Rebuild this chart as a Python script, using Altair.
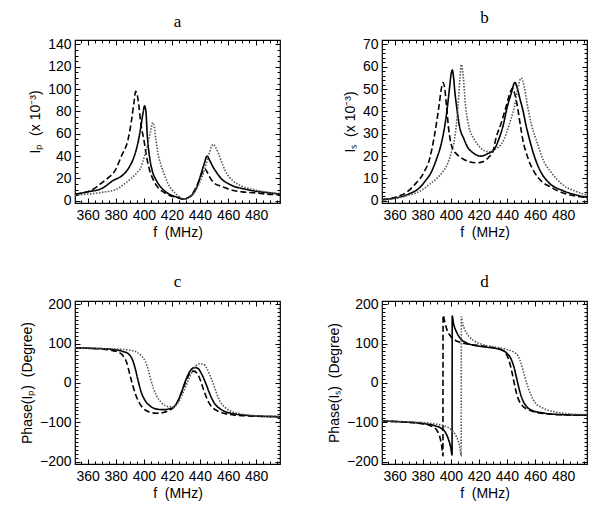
import altair as alt
import pandas as pd

F_DOMAIN = [351, 497]
SERIES = ["solid", "dashed", "dotted"]

# ---------------- panel a : I_p (x 10^-3) ----------------
a_solid_f = [351, 360, 370, 378, 385, 388, 390, 392, 394, 396, 398, 399.5, 400.5, 401.5, 402.5, 404, 406, 409, 413, 418, 423, 428.5, 432, 435, 438, 441, 443, 445, 447, 449, 451.5, 455, 460, 465, 470, 480, 490, 497]
a_solid_v = [6, 8, 11, 18, 23, 27, 31, 36, 43, 53, 67, 79, 85, 80, 58, 40, 27, 18, 11, 6, 3.5, 1.5, 3, 6, 13, 25, 33, 40, 36, 31, 26, 20, 15.5, 12.5, 11, 8.5, 7, 6]
a_dash_f = [351, 360, 366, 371, 375, 379.5, 384, 388.8, 391, 393, 394.2, 395.3, 396.5, 398, 400, 401.5, 403, 404.5, 407, 410, 415, 420, 425, 428.5, 432, 436, 440, 442, 443.6, 445, 447, 450, 455, 463, 470, 480, 487, 497]
a_dash_v = [6, 8, 12, 17, 21, 27, 40, 55, 70, 88, 98, 95, 85, 68, 55, 43, 33, 26, 18, 12, 7, 4, 2.5, 1.5, 3, 9, 20, 26, 28.5, 26, 21, 16, 13, 9.5, 8, 7, 6, 5.5]
a_dot_f = [351, 360, 370, 380, 386, 391, 395, 398, 400.5, 403, 405, 406.3, 407.5, 408.6, 410, 412, 414.5, 417, 420, 424, 428.5, 432, 436, 440, 443, 446, 448.3, 449.5, 451, 453, 455, 458, 461, 463.4, 470, 480, 486.7, 497]
a_dot_v = [5, 6, 7.5, 10, 15, 20, 25, 30, 40, 52, 63, 70, 66, 55, 43, 33, 24, 16, 10, 5, 1.5, 3, 8, 17, 27, 40, 49, 50.5, 48, 43, 36, 27, 21, 18, 13, 9.5, 8, 6]

# ---------------- panel b : I_s (x 10^-3) ----------------
b_solid_f = [351, 360, 370, 378, 382, 386, 390, 393, 395, 397, 399, 400.3, 401.1, 402, 403, 404.2, 406, 409.4, 412, 415.4, 421.4, 426, 430.9, 434.2, 437, 440.2, 443, 445.7, 447.5, 449.5, 451.2, 453.5, 456, 460, 464.3, 470, 480, 490, 497]
b_solid_v = [0.5, 1.2, 3, 6, 9, 12.7, 19, 25, 31, 39, 50, 57, 58.5, 55, 48, 42, 34, 27.6, 24, 21.7, 20, 21, 23, 27.6, 33, 42, 48, 53, 50, 45, 41, 34, 27.6, 19, 12.7, 8, 4.5, 2.5, 1.5]
b_dash_f = [351, 360, 370, 373.6, 380.8, 385, 387.9, 391.5, 393.5, 394.4, 395.5, 397, 398.5, 400, 401.5, 404, 408, 413, 418, 423, 427, 430, 432, 436, 439.3, 442, 444, 445.5, 447.5, 449.5, 451.2, 455, 459.6, 465, 470, 480, 490, 497]
b_dash_v = [0.5, 1.5, 4.5, 6.8, 12.7, 19, 27.6, 42, 51, 53, 51, 42, 32, 26, 23, 21, 19, 17.5, 17, 17.5, 19.5, 22, 27.6, 35, 42, 48, 50.5, 48, 42, 34, 27.6, 19, 12.7, 8.5, 6.5, 3.5, 2, 1.5]
b_dot_f = [351, 360, 370, 380, 385, 390, 394, 398, 400.5, 402.7, 405.1, 406.5, 407.5, 408.5, 410.6, 413, 416.6, 420, 423.7, 427, 430.9, 434, 438, 441, 445.2, 448, 450, 452, 454.8, 457.5, 460.7, 466, 471.5, 480, 490, 497]
b_dot_v = [0.3, 1, 2.5, 5, 7.5, 10, 12.7, 17, 22, 27.6, 42, 55, 61, 58, 42, 33, 27.6, 24.5, 22.5, 22, 23, 24, 27.6, 33, 42, 51, 55, 52, 42, 34, 27.6, 18, 12.7, 7, 4, 2.5]

# ---------------- panel c : Phase(I_p) (Degree) ----------------
c_solid_f = [351, 360, 370, 380, 385, 389, 392, 394, 396, 398, 401, 405, 410, 415, 419, 421, 424, 427, 430, 433, 436, 438.5, 441, 444, 447, 450, 454, 458, 465, 475, 485, 497]
c_solid_v = [89, 88, 87, 84, 80, 74, 58, 35, 5, -22, -45, -60, -67, -68, -65, -62, -48, -22, 8, 30, 39, 37, 24, 0, -28, -50, -65, -73, -79, -83, -85, -86]
c_dash_f = [351, 360, 370, 378, 382, 385, 388, 390, 392, 394, 397, 400, 404, 409, 414, 418, 421, 424, 427, 430, 433, 435.5, 438, 440.5, 443, 446, 449, 453, 458, 465, 475, 485, 497]
c_dash_v = [89, 88, 86, 82, 78, 70, 50, 22, -5, -28, -52, -66, -74, -77, -75, -70, -63, -48, -24, 5, 25, 30, 24, 5, -22, -48, -63, -72, -78, -82, -84, -85, -86]
c_dot_f = [351, 360, 370, 380, 390, 395, 398, 401, 403, 405, 407, 409, 412, 415, 418, 421, 424, 427, 430, 433, 436, 439, 442, 445, 448, 451, 454, 458, 462, 468, 475, 485, 497]
c_dot_v = [89, 88, 87, 86, 83, 78, 70, 55, 35, 8, -15, -32, -48, -57, -61, -61, -52, -33, -8, 18, 38, 48, 48, 36, 12, -18, -45, -63, -72, -78, -82, -84, -85]

# ---------------- panel d : Phase(I_s) (Degree) ----------------
d_solid_f = [351, 360, 370, 380, 388, 393, 396, 398, 400, 400.9, 401, 402, 404, 407, 411, 416, 425, 435, 440, 443, 445, 447, 449, 451, 454, 458, 465, 475, 497]
d_solid_v = [-97, -98, -100, -103, -108, -115, -125, -140, -165, -183, 170, 150, 130, 112, 102, 96, 91, 85, 75, 60, 40, 10, -20, -42, -60, -70, -76, -80, -82]
d_dash_f = [351, 360, 370, 380, 385, 388, 390, 392, 393.5, 394.4, 394.5, 395.5, 397, 400, 405, 410, 420, 430, 435, 438, 440, 442, 444, 446, 448, 451, 455, 460, 470, 480, 497]
d_dash_v = [-97, -98, -100, -104, -108, -113, -120, -135, -160, -185, 172, 158, 138, 118, 105, 100, 95, 90, 86, 80, 70, 50, 20, -15, -40, -58, -68, -74, -79, -81, -82]
d_dot_f = [351, 360, 370, 380, 390, 396, 400, 403, 405, 406.5, 407.4, 407.5, 408.5, 410, 413, 417, 422, 430, 440, 445, 448, 450, 452, 454, 457, 460, 465, 472, 480, 497]
d_dot_v = [-97, -98, -99, -101, -105, -110, -118, -130, -145, -165, -185, 168, 150, 135, 118, 106, 98, 92, 85, 78, 68, 50, 25, 0, -30, -50, -63, -72, -77, -81]

W, H = 205, 163
LABEL_FONT = "Liberation Sans"
NB = "\u00a0"


def frame(values):
    rows = []
    for name, (fs, vs) in zip(SERIES, values):
        for i, (f, v) in enumerate(zip(fs, vs)):
            rows.append({"f": f, "v": v, "series": name, "i": i})
    return pd.DataFrame(rows)


def grid_dash(length, major_test):
    return {"condition": {"test": major_test, "value": [5, length - 10, 5, 4000]},
            "value": [3, length - 6, 3, 4000]}


def panel(values, ydomain, ystep_major, ystep_minor, ytitle, title):
    df = frame(values)
    xvals = list(range(355, 500, 5))
    lo = int(round(ydomain[0] / ystep_minor)) * ystep_minor
    yvals = [v for v in range(lo, int(ydomain[1]) + 1, ystep_minor) if ydomain[0] <= v <= ydomain[1]]
    xtest = "datum.value % 20 === 0"
    ytest = f"datum.value % {ystep_major} === 0"
    xaxis = alt.Axis(values=xvals, labelExpr=f"{xtest} ? datum.label : ''", ticks=False, domain=False,
                     grid=True, gridColor="black", gridOpacity=1, gridWidth=1,
                     gridDash=grid_dash(H, xtest), labelFont=LABEL_FONT, labelFontSize=14,
                     labelColor="black", labelPadding=5, labelOverlap=False, labelFlush=False,
                     titleFont=LABEL_FONT, titleFontSize=14, titleFontWeight="normal",
                     titleColor="black", titlePadding=3)
    yaxis = alt.Axis(values=yvals, labelExpr=f"{ytest} ? datum.label : ''", ticks=False, domain=False,
                     grid=True, gridColor="black", gridOpacity=1, gridWidth=1,
                     gridDash=grid_dash(W, ytest), labelFont=LABEL_FONT, labelFontSize=14,
                     labelColor="black", labelPadding=4, labelOverlap=False, labelFlush=False,
                     titleFont=LABEL_FONT, titleFontSize=14, titleFontWeight="normal",
                     titleColor="black", titlePadding=5)
    return alt.Chart(df).mark_line(interpolate="monotone", clip=True).encode(
        x=alt.X("f:Q", scale=alt.Scale(domain=F_DOMAIN, nice=False, zero=False), axis=xaxis, title=f"f{NB} (MHz)"),
        y=alt.Y("v:Q", scale=alt.Scale(domain=ydomain, nice=False, zero=False), axis=yaxis, title=ytitle),
        strokeDash=alt.StrokeDash("series:N", scale=alt.Scale(domain=SERIES, range=[[1, 0], [6, 3], [1.5, 1.5]]), legend=None),
        color=alt.Color("series:N", scale=alt.Scale(domain=SERIES, range=["#000000", "#000000", "#555555"]), legend=None),
        strokeWidth=alt.StrokeWidth("series:N", scale=alt.Scale(domain=SERIES, range=[1.6, 1.6, 1.3]), legend=None),
        order="i:Q",
    ).properties(width=W, height=H,
                 title=alt.TitleParams(title, font="Liberation Serif", fontSize=17, fontWeight="normal",
                                       color="black", anchor="middle", offset=6))


pa = panel([(a_solid_f, a_solid_v), (a_dash_f, a_dash_v), (a_dot_f, a_dot_v)], [-2, 144], 20, 5, f"Iₚ{NB} (x 10⁻³)", "a")
pb = panel([(b_solid_f, b_solid_v), (b_dash_f, b_dash_v), (b_dot_f, b_dot_v)], [-1, 72], 10, 2, f"Iₛ{NB} (x 10⁻³)", "b")
pc = panel([(c_solid_f, c_solid_v), (c_dash_f, c_dash_v), (c_dot_f, c_dot_v)], [-206, 208], 100, 10, f"Phase(Iₚ){NB} (Degree)", "c")
pd_ = panel([(d_solid_f, d_solid_v), (d_dash_f, d_dash_v), (d_dot_f, d_dot_v)], [-206, 208], 100, 10, f"Phase(Iₛ){NB} (Degree)", "d")

chart = alt.concat(pa, pb, pc, pd_, columns=2, spacing={"row": 98, "column": 102}, bounds="flush").configure_view(
    stroke="black", strokeWidth=1.2
).properties(padding={"left": 11, "top": 0, "right": 0, "bottom": 0}, background="white")

chart.save("out.html", embed_options={"renderer": "svg", "actions": False})
